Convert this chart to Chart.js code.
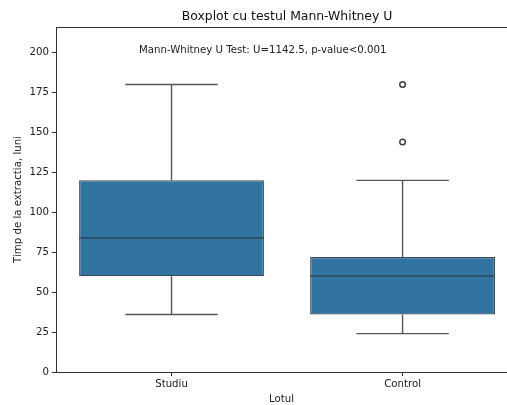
<!DOCTYPE html>
<html>
<head>
<meta charset="utf-8">
<script src="https://cdn.jsdelivr.net/npm/chart.js@4/dist/chart.umd.min.js"></script>
<style>
  html, body { margin: 0; padding: 0; background: #fff; overflow: hidden; }
  canvas { display: block; }
</style>
</head>
<body>
<canvas id="c" width="507" height="405"></canvas>
<script>
// ---- data ----
const categories   = ['Studiu', 'Control'];
const q1Values     = [60, 36];
const medianValues = [84, 60];
const q3Values     = [120, 72];
const whiskerLow   = [36, 24];
const whiskerHigh  = [180, 120];
const outlierCats  = ['Control', 'Control'];
const outlierVals  = [144, 180];
const yMin = 0, yMax = 216, yStep = 25;
const xMin = -0.5, xMax = 1.452;   // visible part of the category range
const titleText = 'Boxplot cu testul Mann-Whitney U';
const noteText  = 'Mann-Whitney U Test: U=1142.5, p-value<0.001';

const FONT = "'DejaVu Sans', sans-serif";
const BOX_COLOR = '#3274a1';
const LINE_COLOR = '#555555';
const TICK_SIZE = 10.2;

const boxParts = {
  id: 'boxParts',
  beforeDatasetsDraw(chart) {
    const { ctx, chartArea } = chart;
    const xs = chart.scales.x;
    ctx.save();
    ctx.strokeStyle = '#333';
    ctx.lineWidth = 1;
    ctx.beginPath();
    ctx.moveTo(chartArea.left, chartArea.top + 0.5);
    ctx.lineTo(chartArea.right, chartArea.top + 0.5);
    ctx.stroke();
    const axCenter = (xs.getPixelForValue(-0.5) + xs.getPixelForValue(categories.length - 0.5)) / 2;
    ctx.fillStyle = '#111';
    ctx.font = '12.4px ' + FONT;
    ctx.textAlign = 'center';
    ctx.textBaseline = 'middle';
    ctx.fillText(titleText, axCenter, 17);
    ctx.restore();
  },
  afterDatasetsDraw(chart) {
    const { ctx, chartArea } = chart;
    const xs = chart.scales.x, ys = chart.scales.y;
    const meta = chart.getDatasetMeta(0);
    ctx.save();
    categories.forEach((c, i) => {
      const x = xs.getPixelForValue(i);
      const bw = meta.data[i].width;
      const capHalf = bw / 4;
      const yQ1 = ys.getPixelForValue(q1Values[i]);
      const yQ3 = ys.getPixelForValue(q3Values[i]);
      const yLo = ys.getPixelForValue(whiskerLow[i]);
      const yHi = ys.getPixelForValue(whiskerHigh[i]);
      const yMed = ys.getPixelForValue(medianValues[i]);
      ctx.strokeStyle = LINE_COLOR;
      ctx.lineWidth = 1.4;
      ctx.beginPath();
      ctx.moveTo(x, yQ3); ctx.lineTo(x, yHi);
      ctx.moveTo(x, yQ1); ctx.lineTo(x, yLo);
      ctx.moveTo(x - capHalf, yHi); ctx.lineTo(x + capHalf, yHi);
      ctx.moveTo(x - capHalf, yLo); ctx.lineTo(x + capHalf, yLo);
      ctx.stroke();
      ctx.beginPath();
      ctx.strokeStyle = '#2d3f4e';
      ctx.lineWidth = 1.4;
      ctx.moveTo(x - bw / 2, yMed); ctx.lineTo(x + bw / 2, yMed);
      ctx.stroke();
    });
    // outliers (fliers)
    ctx.strokeStyle = '#3a3a3a';
    ctx.fillStyle = '#ffffff';
    ctx.lineWidth = 1.4;
    outlierCats.forEach((c, i) => {
      const px = xs.getPixelForValue(categories.indexOf(c));
      const py = ys.getPixelForValue(outlierVals[i]);
      ctx.beginPath();
      ctx.arc(px, py, 2.8, 0, Math.PI * 2);
      ctx.fill();
      ctx.stroke();
    });
    ctx.fillStyle = '#222';
    ctx.font = TICK_SIZE + 'px ' + FONT;
    ctx.textAlign = 'center';
    ctx.textBaseline = 'middle';
    ctx.fillText(noteText, xs.getPixelForValue(0.395), chartArea.top + 23);
    ctx.restore();
  }
};

new Chart(document.getElementById('c'), {
  type: 'bar',
  data: {
    datasets: [
      {
        type: 'bar',
        data: categories.map((c, i) => ({ x: i, y: [q1Values[i], q3Values[i]] })),
        backgroundColor: BOX_COLOR,
        borderColor: '#3a4955',
        borderWidth: 1.2,
        borderSkipped: false,
        barPercentage: 0.8,
        categoryPercentage: 1.0
      }
    ]
  },
  options: {
    responsive: false,
    animation: false,
    events: [],
    layout: { autoPadding: false, padding: { left: 0, right: 0, top: 27, bottom: 0 } },
    plugins: {
      legend: { display: false },
      tooltip: { enabled: false },
      title: { display: false }
    },
    scales: {
      x: {
        type: 'linear',
        min: xMin,
        max: xMax,
        offset: false,
        afterBuildTicks(scale) { scale.ticks = categories.map((c, i) => ({ value: i })); },
        afterFit(scale) { scale.height = 33; },
        grid: { display: true, drawOnChartArea: false, drawTicks: true, tickLength: 4, color: '#333', offset: false },
        border: { display: true, color: '#333', width: 1 },
        ticks: {
          color: '#222', font: { family: FONT, size: TICK_SIZE }, padding: 2, maxRotation: 0, autoSkip: false,
          callback: (v) => categories[Math.round(v)] ?? ''
        },
        title: { display: true, text: 'Lotul', color: '#222', font: { family: FONT, size: TICK_SIZE }, padding: { top: 0, bottom: 0 } }
      },
      y: {
        type: 'linear',
        min: yMin,
        max: yMax,
        afterFit(scale) { scale.width = 56; },
        grid: { display: true, drawOnChartArea: false, drawTicks: true, tickLength: 4, color: '#333' },
        border: { display: true, color: '#333', width: 1 },
        ticks: { stepSize: yStep, includeBounds: false, color: '#222', font: { family: FONT, size: TICK_SIZE }, padding: 3 },
        title: { display: true, text: 'Timp de la extractia, luni', color: '#222', font: { family: FONT, size: TICK_SIZE }, padding: { top: 12, bottom: 0 } }
      }
    }
  },
  plugins: [boxParts]
});
</script>
</body>
</html>
